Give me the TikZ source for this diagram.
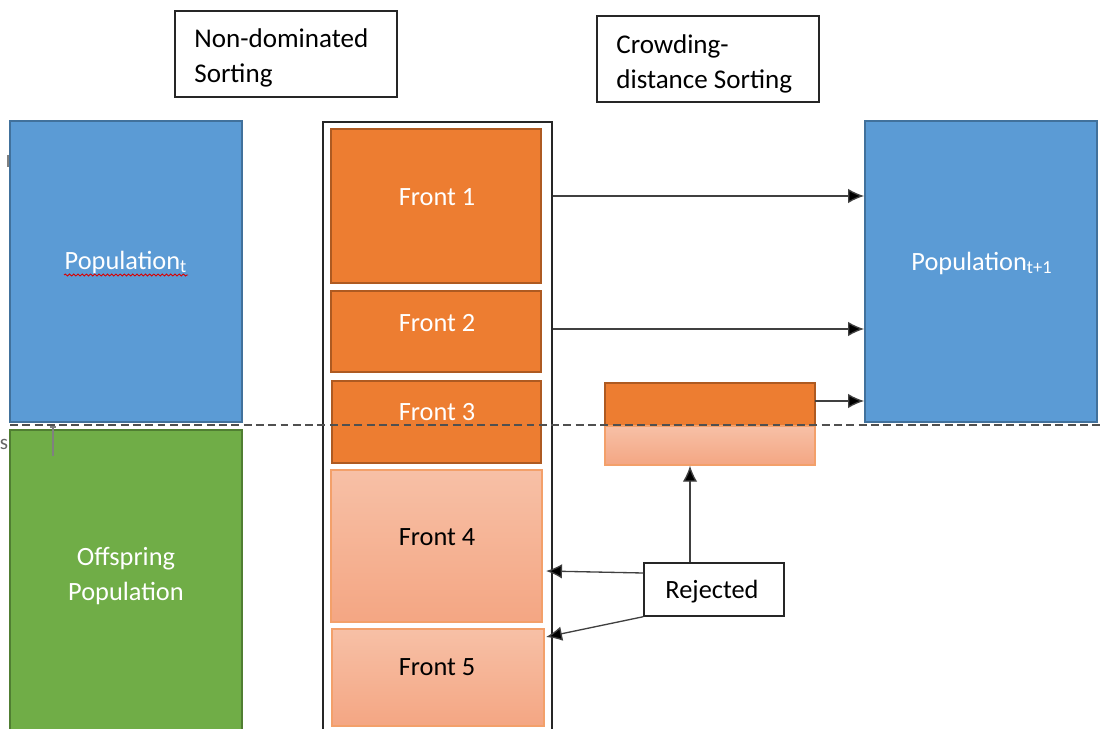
\documentclass[tikz,border=0pt]{standalone}
\usepackage{fontspec}
\setmainfont{Carlito}
\usetikzlibrary{arrows.meta,decorations.pathmorphing}
\definecolor{popblue}{HTML}{5B9BD5}
\definecolor{popblueline}{HTML}{41719C}
\definecolor{offgreen}{HTML}{70AD47}
\definecolor{offgreenline}{HTML}{507E32}
\definecolor{frontorange}{HTML}{ED7D31}
\definecolor{frontorangeline}{HTML}{AE5A21}
\definecolor{lighttop}{HTML}{F7C0A6}
\definecolor{lightbot}{HTML}{F4A683}
\definecolor{lightline}{HTML}{F3A06A}
\definecolor{arrowgray}{HTML}{404040}
\definecolor{dashgray}{HTML}{505050}
\tikzset{
  txt/.style={font=\fontsize{15}{20}\selectfont, inner sep=0pt},
  hdtxt/.style={font=\fontsize{15.4}{20}\selectfont, inner sep=0pt},
  popbox/.style={draw=popblueline, fill=popblue, line width=1.1pt, inner sep=0pt},
  offbox/.style={draw=offgreenline, fill=offgreen, line width=1.1pt, inner sep=0pt},
  keptbox/.style={draw=frontorangeline, fill=frontorange, line width=1.1pt, inner sep=0pt},
  dropbox/.style={draw=lightline, top color=lighttop, bottom color=lightbot, line width=0.8pt, inner sep=0pt},
  labelbox/.style={draw=black!85, line width=0.8pt, fill=white, inner sep=0pt},
  flow/.style={draw=arrowgray, line width=0.75pt, -{Latex[length=0.32cm,width=0.29cm,fill=black]}},
}
\begin{document}
\begin{tikzpicture}[x=0.02cm, y=-0.02cm]
  % canvas
  \fill[white] (0,0) rectangle (1101,729);
  \useasboundingbox (0,0) rectangle (1101,729);

  % stage headings
  \node[labelbox, minimum width=4.44cm, minimum height=1.72cm] (nds) at (286,54) {};
  \node[hdtxt, anchor=north west, align=left] (ndslbl) at (194,28) {Non-dominated\\Sorting};
  \node[labelbox, minimum width=4.44cm, minimum height=1.72cm] (cds) at (708,59) {};
  \node[hdtxt, anchor=north west, align=left] (cdslbl) at (616,34) {Crowding-\\distance Sorting};

  % combined population
  \node[popbox, minimum width=4.64cm, minimum height=6.02cm] (popt) at (126,271.5) {};
  \node[txt, text=white] (poptlbl) at (126,262) {Population\textsubscript{t}};
  \draw[red!85!black, line width=0.5pt, decorate,
        decoration={snake, amplitude=0.55pt, segment length=2.4pt}] (64,275) -- (188,275);
  \node[offbox, minimum width=4.64cm, minimum height=6.2cm] (offs) at (126,585) {};
  \node[txt, text=white, align=center] (offslbl) at (126,576) {Offspring\\Population};

  % sorted fronts
  \node[draw=black!85, line width=0.8pt, minimum width=4.58cm, minimum height=12.36cm, inner sep=0pt] (cont) at (437.5,431) {};
  \node[keptbox, minimum width=4.2cm, minimum height=3.08cm] (f1) at (436,206) {};
  \node[txt, text=white] (f1lbl) at (437,197) {Front 1};
  \node[keptbox, minimum width=4.2cm, minimum height=1.62cm] (f2) at (436,331.5) {};
  \node[txt, text=white] (f2lbl) at (437,323) {Front 2};
  \node[keptbox, minimum width=4.18cm, minimum height=1.64cm] (f3) at (436.5,422) {};
  \node[txt, text=white] (f3lbl) at (437,412) {Front 3};
  \node[dropbox, minimum width=4.22cm, minimum height=3.04cm] (f4) at (436.5,546) {};
  \node[txt] (f4lbl) at (437,537) {Front 4};
  \node[dropbox, minimum width=4.24cm, minimum height=1.94cm] (f5) at (438,677.5) {};
  \node[txt] (f5lbl) at (437,667) {Front 5};

  % front 3 split by crowding distance
  \node[keptbox, minimum width=4.2cm, minimum height=0.86cm] (cdtop) at (710,404.5) {};
  \node[dropbox, minimum width=4.2cm, minimum height=0.78cm] (cdbot) at (710,445.5) {};

  % next population
  \node[popbox, minimum width=4.64cm, minimum height=6.02cm] (popt1) at (981,271.5) {};
  \node[txt, text=white] (popt1lbl) at (982,263) {Population\textsubscript{t+1}};

  % rejected
  \node[labelbox, minimum width=2.8cm, minimum height=1.06cm] (rej) at (714,589.5) {};
  \node[txt] (rejlbl) at (712,592) {Rejected};

  % population cut-off
  \draw[dashgray, line width=0.7pt, dash pattern=on 4.5pt off 2.5pt] (10,425) -- (1101,425);

  % editing marks near the left edge
  \draw[gray, line width=1pt] (8,155) -- (8,167);
  \draw[gray, line width=0.8pt] (53,427) -- (53,456);
  \draw[gray, line width=0.6pt] (50,427) -- (56,427);
  \node[txt, text=black!60, font=\fontsize{12}{14}\selectfont] (edge) at (4,444) {s};

  % connectors
  \coordinate (a1) at (553,196);
  \coordinate (a2) at (553,329);
  \coordinate (a3) at (815,401);
  \coordinate (r1) at (546,571);
  \coordinate (r2) at (546,637);
  \draw[flow] (a1) -- (popt1.west |- a1);
  \draw[flow] (a2) -- (popt1.west |- a2);
  \draw[flow] (a3) -- (popt1.west |- a3);
  \draw[flow] (rej.north -| 690,0) -- (cdbot.south -| 690,0);
  \draw[flow] (rej.west |- 0,573) -- (r1);
  \draw[flow] (rej.south west) -- (r2);
\end{tikzpicture}
\end{document}
